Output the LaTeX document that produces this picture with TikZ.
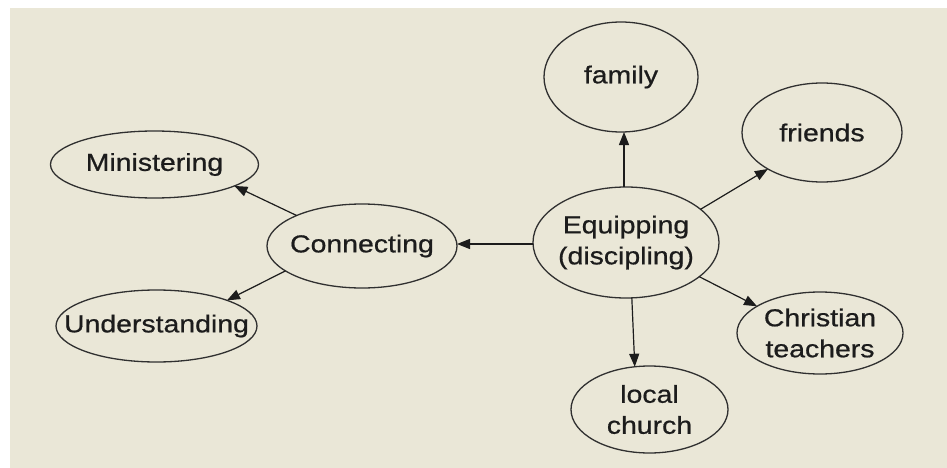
\documentclass[tikz,border=0pt]{standalone}
\usepackage{fontspec}
\setmainfont{Liberation Sans}[FakeStretch=1.16,FakeBold=0.7]
\usetikzlibrary{arrows.meta,shapes.geometric}
\definecolor{paper}{HTML}{EAE7D7}
\definecolor{ink}{HTML}{1C1C1C}
\definecolor{rim}{HTML}{303030}
\tikzset{
  topic/.style={ellipse, draw=rim, line width=1.3pt, outer sep=0pt, inner sep=0pt,
    label={[text=ink, align=center, inner sep=0pt, font=\fontsize{24.5}{31}\selectfont]center:#1}},
  link/.style={draw=ink, line width=1.2pt, -{Triangle[length=13pt,width=10pt]}}
}
\begin{document}
\begin{tikzpicture}[x=1pt,y=-1pt]
  \useasboundingbox (0,0) rectangle (947,468);
  \fill[white] (0,0) rectangle (947,468);
  \fill[paper] (10,8) rectangle (947,468);

  % hub and its neighbours
  \node[topic={Equipping\\(discipling)}, minimum width=186pt, minimum height=111pt] (eq)  at (626,242.5) {};
  \node[topic={family},        minimum width=154pt, minimum height=110pt] (fam) at (621,77) {};
  \node[topic={friends},       minimum width=160pt, minimum height=99pt]  (fri) at (822,132.5) {};
  \node[topic={Christian\\teachers}, minimum width=166pt, minimum height=82pt] (chr) at (820,333) {};
  \node[topic={local\\church}, minimum width=157pt, minimum height=87pt]  (loc) at (649.5,409.5) {};
  \node[topic={Connecting},    minimum width=190pt, minimum height=84pt]  (con) at (362,246) {};
  \node[topic={Ministering},   minimum width=208pt, minimum height=67pt]  (min) at (154.5,164.5) {};
  \node[topic={Understanding}, minimum width=201pt, minimum height=72pt]  (und) at (156.5,326) {};

  % connectors
  \draw[link] ([xshift=-2pt]eq.north) -- ([xshift=3pt]fam.south);
  \draw[link] (eq.24.7) -- (fri.-146.3);
  \draw[link] (eq.-25.3) -- (chr.157.4);
  \draw[link] (eq.-84) -- (loc.109);
  \draw[link] ([yshift=-1.5pt]eq.west) -- ([yshift=2pt]con.east);
  \draw[link] (con.155.8) -- (min.-15.6);
  \draw[link] (con.-162.4) -- (und.20.4);
\end{tikzpicture}
\end{document}
